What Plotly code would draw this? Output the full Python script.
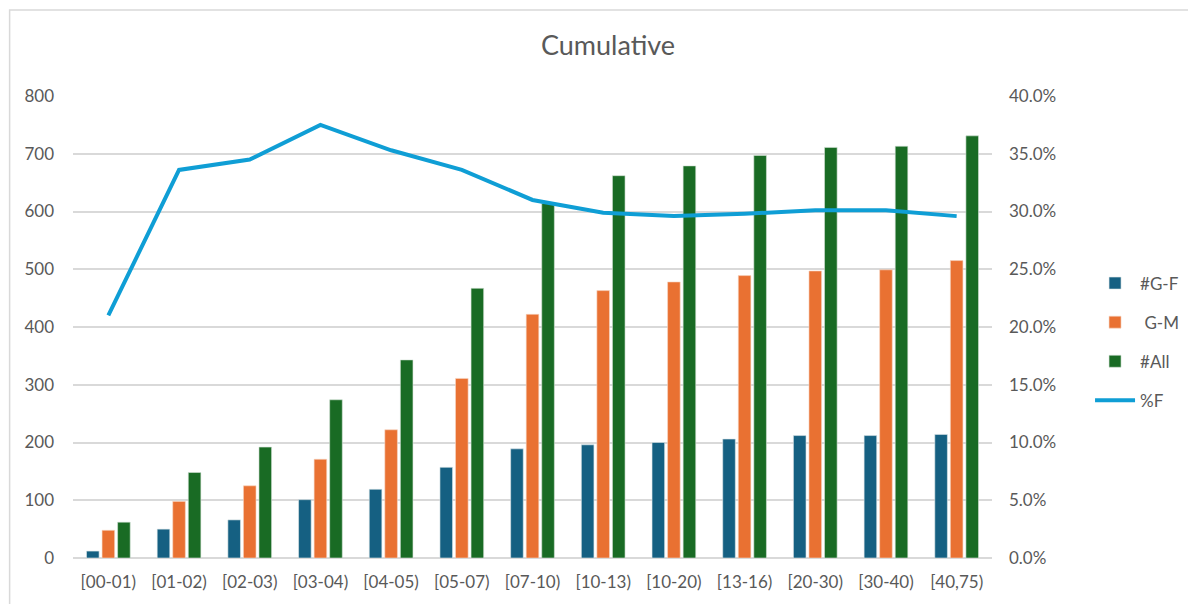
import plotly.graph_objects as go

categories = ["[00-01)", "[01-02)", "[02-03)", "[03-04)", "[04-05)", "[05-07)", "[07-10)",
              "[10-13)", "[10-20)", "[13-16)", "[20-30)", "[30-40)", "[40,75)"]
g_f = [12, 50, 66, 101, 119, 157, 189, 196, 200, 206, 212, 212, 214]
g_m = [48, 98, 125, 171, 222, 311, 422, 463, 478, 489, 497, 499, 515]
all_ = [62, 148, 192, 274, 343, 467, 614, 662, 679, 697, 711, 713, 731]
pct_f = [0.210, 0.336, 0.345, 0.375, 0.353, 0.336, 0.310, 0.299, 0.296, 0.298, 0.301, 0.301, 0.296]

FONT = "Lato, 'Noto Sans', sans-serif"
GRAY = "#595959"

fig = go.Figure()
fig.add_trace(go.Bar(x=categories, y=g_f, name="#G-F", marker=dict(color="#156082", line=dict(color="#dfe7ea", width=0.6)), legendgroup="a"))
fig.add_trace(go.Bar(x=categories, y=g_m, name=" G-M", marker=dict(color="#E97132", line=dict(color="#f7d7c6", width=0.6)), legendgroup="b"))
fig.add_trace(go.Bar(x=categories, y=all_, name="#All", marker=dict(color="#196B24", line=dict(color="#d5e3d7", width=0.6)), legendgroup="c"))
fig.add_trace(go.Scatter(x=categories, y=pct_f, name="%F", mode="lines", yaxis="y2",
                         line=dict(color="#0F9ED5", width=4), legendgroup="d"))

# page body has an 8px margin; screen coords below are in the 1196x604 window
OFF = 8
FW, FH = 1196 - OFF, 604 - OFF
L, R, T, B = 73 - OFF, 1196 - 1001, 96 - OFF, 604 - 558
W = FW - L - R
H = FH - T - B
def px_x(p): return (p - OFF - L) / W
def px_y(p): return (FH - B - (p - OFF)) / H

fig.add_shape(type="rect", xref="paper", yref="paper",
              x0=px_x(9), x1=px_x(1220), y0=px_y(630), y1=px_y(10),
              line=dict(color="#d9d9d9", width=1.5), fillcolor="rgba(0,0,0,0)", layer="below")

fig.update_layout(
    width=FW, height=FH,
    margin=dict(l=L, r=R, t=T, b=B),
    paper_bgcolor="white", plot_bgcolor="white",
    title=dict(text="Cumulative", xref="container", yref="container",
               x=(608 - OFF) / FW, xanchor="center", y=1 - (46 - OFF) / FH, yanchor="middle",
               font=dict(family=FONT, size=27, color=GRAY)),
    font=dict(family=FONT, size=17, color=GRAY),
    barmode="group", bargap=0.34, bargroupgap=0.19,
    xaxis=dict(showgrid=False, ticks="", tickfont=dict(size=17, color=GRAY), showline=False,
               ticklabelstandoff=12),
    yaxis=dict(range=[0, 800], dtick=100, showgrid=True, gridcolor="#d9d9d9", gridwidth=1.5,
               zeroline=True, zerolinecolor="#d9d9d9", zerolinewidth=1.5,
               tickfont=dict(size=17, color=GRAY), ticks="", ticklabelstandoff=18),
    yaxis2=dict(range=[0, 0.4], dtick=0.05, tickformat=".1%", overlaying="y", side="right",
                showgrid=False, zeroline=False, tickfont=dict(size=17, color=GRAY), ticks="",
                ticklabelstandoff=16),
    legend=dict(x=px_x(1100), xanchor="left", y=px_y(342), yanchor="middle",
                font=dict(size=17, color=GRAY), tracegroupgap=14, traceorder="grouped",
                itemwidth=40, bgcolor="rgba(0,0,0,0)"),
    showlegend=True,
)

fig.write_html("out.html")
